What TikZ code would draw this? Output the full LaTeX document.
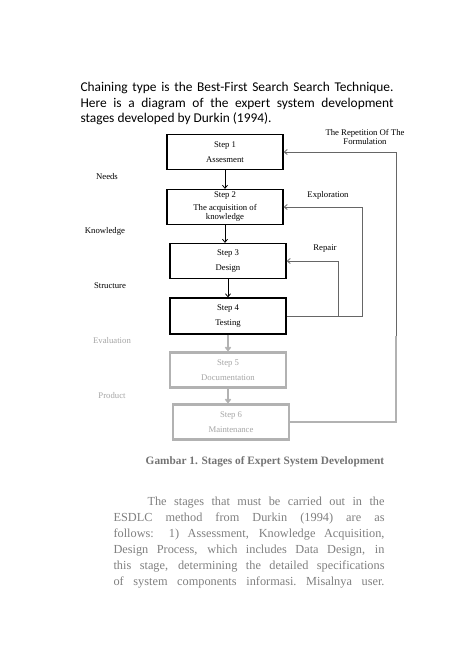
\documentclass[tikz,border=0pt]{standalone}
\usepackage{fontspec}
\setmainfont{Liberation Serif}
\newfontfamily\bodyfont{Carlito}
\usetikzlibrary{positioning, arrows.meta}

\begin{document}
\begin{tikzpicture}[
  x=1pt, y=-1pt,
  every node/.style={font=\fontsize{8.7}{9.5}\selectfont, align=center},
  stage/.style={rectangle, draw=black, line width=1.3pt, minimum width=116pt, minimum height=35pt, inner sep=1pt},
  faded/.style={stage, draw=black!30, text=black!35, line width=2.2pt},
  fb/.style={draw=black!60, line width=0.8pt},
  fadedfb/.style={draw=black!30, line width=1.6pt},
  >={Straight Barb[length=3pt, width=5pt]}
]
\useasboundingbox[fill=white] (0,0) rectangle (474,672);

% text above the diagram
\node[anchor=north west, align=left, font=\bodyfont\fontsize{13.4}{15.2}\selectfont] (intro) at (77,79)
  {\makebox[313pt][s]{Chaining type is the Best-First Search Search Technique.}\\
   \makebox[313pt][s]{Here is a diagram of the expert system development}\\
   stages developed by Durkin (1994).};

% stages
\node[stage] (s1) at (225,152) {Step 1\\[5pt]Assesment};
\node[stage] (s2) at (225,207) {Step 2\\[3pt]The acquisition of\\knowledge};
\node[stage] (s3) at (228,261) {Step 3\\[5pt]Design};
\node[stage, minimum height=36pt] (s4) at (228,316) {Step 4\\[5pt]Testing};
\node[faded] (s5) at (228,370) {Step 5\\[5pt]Documentation};
\node[faded] (s6) at (231,422) {Step 6\\[5pt]Maintenance};

\draw[->, line width=0.8pt] (s1.south) -- (s2.north);
\draw[->, line width=0.8pt] (s2.south) -- (s2.south |- s3.north);
\draw[->, line width=0.8pt] (s3.south) -- (s4.north);
\draw[->, fadedfb] (s4.south) -- (s5.north);
\draw[->, fadedfb] (s5.south) -- (s5.south |- s6.north);

% left labels
\node (needs) at (107,177) {Needs};
\node (know) at (105,231) {Knowledge};
\node (struct) at (110,286) {Structure};
\node[text=black!35] (eval) at (112,341) {Evaluation};
\node[text=black!35] (prod) at (112,396) {Product};

% feedback loops
\coordinate (xrep) at (396,0);
\coordinate (xexp) at (362,0);
\coordinate (xfix) at (338,0);
\coordinate (blurtop) at (0,336);
\draw[fadedfb] (s6.east) -| (xrep |- blurtop);
\draw[fb, ->] (xrep |- blurtop) -- (xrep |- s1.east) -- (s1.east);
\draw[fb, ->] (s4.east) -| (xexp |- s2.east) -- (s2.east);
\draw[fb, ->] (s4.east -| xfix) |- (s3.east);

\node (formul) at (365,137) {The Repetition Of The\\Formulation};
\node (explor) at (328,195) {Exploration};
\node (repair) at (325,249) {Repair};

% caption and text below
\node[font=\bfseries\fontsize{11.3}{13}\selectfont, text=black!55] (caption) at (265,462)
  {Gambar 1. Stages of Expert System Development};
\node[anchor=north west, align=left, text=black!50, font=\fontsize{12.3}{16}\selectfont] (para) at (110,493)
  {\hspace*{34pt}\makebox[237pt][s]{The stages that must be carried out in the}\\
   \makebox[271pt][s]{ESDLC method from Durkin (1994) are as}\\
   \makebox[271pt][s]{follows: 1) Assessment, Knowledge Acquisition,}\\
   \makebox[271pt][s]{Design Process, which includes Data Design, in}\\
   \makebox[271pt][s]{this stage, determining the detailed specifications}\\
   \makebox[271pt][s]{of system components informasi.\ Misalnya user.}};

\end{tikzpicture}
\end{document}
